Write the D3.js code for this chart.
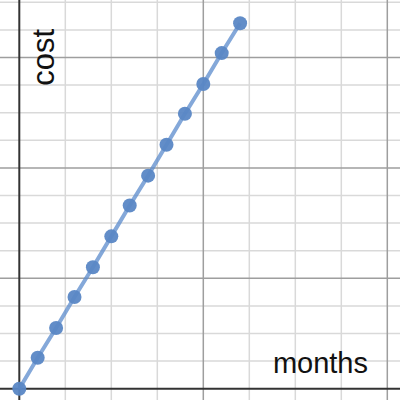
<!DOCTYPE html>
<html>
<head>
<meta charset="utf-8">
<script src="https://cdn.jsdelivr.net/npm/d3@7"></script>
<style>
  html, body { margin: 0; padding: 0; background: #fff; }
  svg { display: block; }
</style>
</head>
<body>
<div id="chart"></div>
<script>
// data
let months = [0, 1, 2, 3, 4, 5, 6, 7, 8, 9, 10, 11, 12];
let cost = [0, 28, 55, 83, 110, 138, 166, 193, 221, 249, 276, 304, 331];

// grid values
let x_minor = [-2.5, 2.5, 5, 7.5, 12.5, 15, 17.5, 22.5];
let x_major = [10, 20];
let y_minor = [25, 50, 75, 125, 150, 175, 225, 250, 275, 325, 350];
let y_major = [100, 200, 300];

let x_label = "months";
let y_label = "cost";

let w = 400, h = 400;

let svg = d3.select("#chart")
    .append("svg")
    .attr("width", w)
    .attr("height", h);

// origin sits at (19.3, 388.7), 10 months = 184px, 100 cost = 110.4px
let x = d3.scaleLinear().domain([-1.049, 20.69]).range([0, w]);
let y = d3.scaleLinear().domain([-10.24, 352.1]).range([h, 0]);

// minor grid
svg.append("g").selectAll("line.xminor")
    .data(x_minor).enter().append("line")
    .attr("x1", d => x(d)).attr("x2", d => x(d))
    .attr("y1", 0).attr("y2", h)
    .attr("stroke", "#d9d9d9").attr("stroke-width", 1.5);
svg.append("g").selectAll("line.yminor")
    .data(y_minor).enter().append("line")
    .attr("y1", d => y(d)).attr("y2", d => y(d))
    .attr("x1", 0).attr("x2", w)
    .attr("stroke", "#d9d9d9").attr("stroke-width", 1.5);

// major grid
svg.append("g").selectAll("line.xmajor")
    .data(x_major).enter().append("line")
    .attr("x1", d => x(d)).attr("x2", d => x(d))
    .attr("y1", 0).attr("y2", h)
    .attr("stroke", "#9e9e9e").attr("stroke-width", 1.5);
svg.append("g").selectAll("line.ymajor")
    .data(y_major).enter().append("line")
    .attr("y1", d => y(d)).attr("y2", d => y(d))
    .attr("x1", 0).attr("x2", w)
    .attr("stroke", "#9e9e9e").attr("stroke-width", 1.5);

// axes
svg.append("line")
    .attr("x1", x(0)).attr("x2", x(0))
    .attr("y1", 0).attr("y2", h)
    .attr("stroke", "#333").attr("stroke-width", 2);
svg.append("line")
    .attr("x1", 0).attr("x2", w)
    .attr("y1", y(0)).attr("y2", y(0))
    .attr("stroke", "#333").attr("stroke-width", 2);

// axis labels
svg.append("text")
    .attr("x", 368).attr("y", 373)
    .attr("text-anchor", "end")
    .attr("font-family", "Liberation Sans, Arial, sans-serif")
    .attr("font-size", 29)
    .attr("fill", "#111")
    .text(x_label);
svg.append("text")
    .attr("transform", "translate(54,29) rotate(-90)")
    .attr("text-anchor", "end")
    .attr("font-family", "Liberation Sans, Arial, sans-serif")
    .attr("font-size", 31)
    .attr("fill", "#111")
    .text(y_label);

// series
let pts = months.map((m, i) => ({ m: m, c: cost[i] }));
let line = d3.line().x(d => x(d.m)).y(d => y(d.c));

svg.append("path")
    .datum(pts)
    .attr("d", line)
    .attr("fill", "none")
    .attr("stroke", "#5b8bcc")
    .attr("stroke-opacity", 0.75)
    .attr("stroke-width", 4);

svg.append("g").selectAll("circle")
    .data(pts).enter().append("circle")
    .attr("cx", d => x(d.m))
    .attr("cy", d => y(d.c))
    .attr("r", 7)
    .attr("fill", "#5a87c5")
    .attr("fill-opacity", 0.95);
</script>
</body>
</html>
